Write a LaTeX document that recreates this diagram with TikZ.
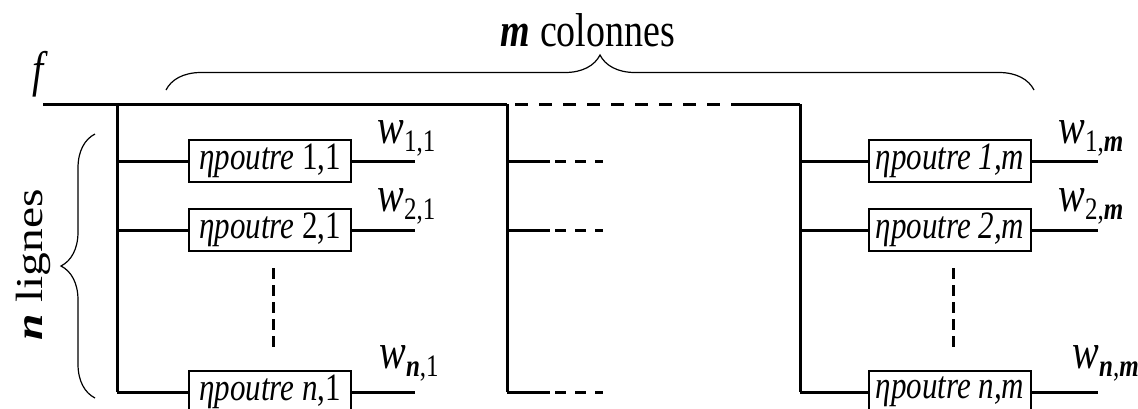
\documentclass[tikz,border=0pt]{standalone}
\usepackage{graphicx}
\usepackage{fontspec}
\setmainfont{Liberation Serif}
\usetikzlibrary{decorations.pathreplacing}

\newcommand{\tallt}[1]{\scalebox{1}[1.25]{#1}}
\newcommand{\wlab}[1]{\tallt{\textit{w}\raisebox{-0.35ex}{\fontsize{12.5}{12.5}\selectfont #1}}}
\newcommand{\bim}[1]{\textbf{\textit{#1}}}

\begin{document}
\begin{tikzpicture}[x=0.5pt,y=-0.5pt,
        line/.style = {line width=1.5pt},
        dashline/.style = {line width=1.5pt, dash pattern=on 6.5pt off 5.5pt},
        shortdash/.style = {line width=1.5pt, dash pattern=on 5.5pt off 4.5pt},
        vdash/.style = {line width=1.5pt, dash pattern=on 5.25pt off 3.25pt},
        beam/.style = {draw, fill=white, line width=1.4pt, minimum width=81pt,
                       minimum height=21pt, inner sep=1pt, font=\fontsize{15.5}{15.5}\selectfont},
        brace/.style = {decorate, line width=0.6pt},
        wout/.style = {anchor=base west, inner sep=0pt, font=\fontsize{20}{20}\selectfont},
        big/.style = {font=\fontsize{19}{19}\selectfont}]
    \useasboundingbox (0,0) rectangle (1138,408);

    % bus f
    \coordinate (f0) at (43,104);
    \coordinate (top1) at (117,104);
    \coordinate (top2) at (507,104);
    \coordinate (dbeg) at (515,104);
    \coordinate (dend) at (742,104);
    \coordinate (top3) at (800,104);
    \coordinate (bot1) at (117,392);
    \coordinate (bot2) at (507,392);
    \coordinate (bot3) at (800,392);
    \draw[line] (f0) -- (top2);
    \draw[dashline] (dbeg) -- (dend);
    \draw[line] (dend) -- (top3);
    \draw[line] (top1) -- (bot1);
    \draw[line] (top2) -- (bot2);
    \draw[line] (top3) -- (bot3);

    % first column
    \node[beam] (b11) at (270,161) {\tallt{\textit{ηpoutre} 1,1}};
    \node[beam] (b21) at (270,230) {\tallt{\textit{ηpoutre} 2,1}};
    \node[beam] (bn1) at (270,392) {\tallt{\textit{ηpoutre n},1}};
    \coordinate (o11) at (415,161);
    \coordinate (o21) at (415,230);
    \coordinate (on1) at (415,392);
    \draw[line] (117,161) -- (b11) -- (o11);
    \draw[line] (117,230) -- (b21) -- (o21);
    \draw[line] (117,392) -- (bn1) -- (on1);
    \coordinate (v1a) at (273,268);
    \coordinate (v1b) at (273,349);
    \draw[vdash] (v1a) -- (v1b);
    \node[wout] (w11) at (377,143) {\wlab{1,1}};
    \node[wout] (w21) at (377,211) {\wlab{2,1}};
    \node[wout] (wn1) at (379,368) {\wlab{\bim{n},1}};

    % middle column
    \coordinate (s1) at (550,161);
    \coordinate (s2) at (550,230);
    \coordinate (sn) at (550,392);
    \coordinate (d1) at (555,161);
    \coordinate (d2) at (555,230);
    \coordinate (dn) at (555,392);
    \coordinate (e1) at (603,161);
    \coordinate (e2) at (603,230);
    \coordinate (en) at (603,392);
    \draw[line] (507,161) -- (s1);
    \draw[line] (507,230) -- (s2);
    \draw[line] (507,392) -- (sn);
    \draw[shortdash] (d1) -- (e1);
    \draw[shortdash] (d2) -- (e2);
    \draw[shortdash] (dn) -- (en);

    % last column
    \node[beam] (b1m) at (950,161) {\tallt{\textit{ηpoutre 1,m}}};
    \node[beam] (b2m) at (950,230) {\tallt{\textit{ηpoutre 2,m}}};
    \node[beam] (bnm) at (950,392) {\tallt{\textit{ηpoutre n,m}}};
    \coordinate (o1m) at (1098,161);
    \coordinate (o2m) at (1098,230);
    \coordinate (onm) at (1098,392);
    \draw[line] (800,161) -- (b1m) -- (o1m);
    \draw[line] (800,230) -- (b2m) -- (o2m);
    \draw[line] (800,392) -- (bnm) -- (onm);
    \coordinate (vma) at (953,268);
    \coordinate (vmb) at (953,349);
    \draw[vdash] (vma) -- (vmb);
    \node[wout] (w1m) at (1058,143) {\wlab{1,\bim{m}}};
    \node[wout] (w2m) at (1058,211) {\wlab{2,\bim{m}}};
    \node[wout] (wnm) at (1072,368) {\wlab{\bim{n},\bim{m}}};

    % braces and labels
    \draw[brace, decoration={brace, amplitude=17.5pt}] (166,90) -- (1034,90);
    \draw[brace, decoration={brace, amplitude=17pt}] (95,398) -- (95,134);
    \node[big] (mcol) at (588,30) {\tallt{\bim{m} colonnes}};
    \node[big, rotate=90] (nlig) at (33,265) {\scalebox{1.25}[1]{\bim{n} lignes}};
    \node[font=\fontsize{20}{20}\selectfont] (fin) at (40,74) {\tallt{\textit{f}}};
\end{tikzpicture}
\end{document}
